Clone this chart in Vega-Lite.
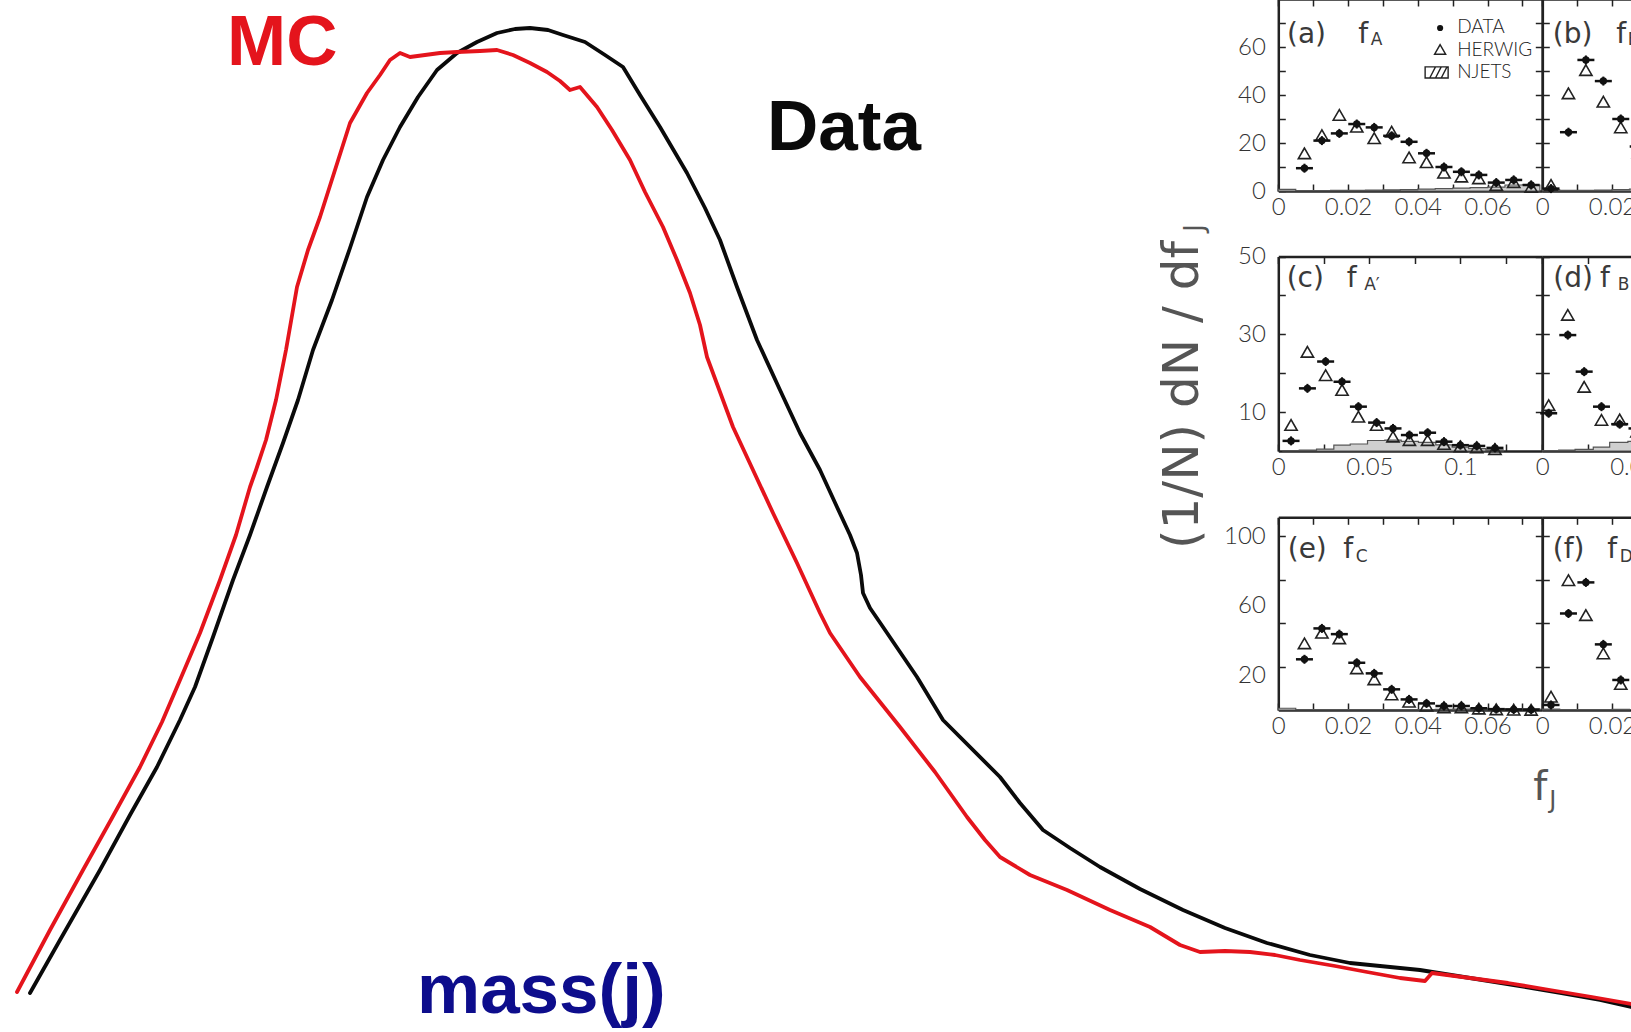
{
  "$schema": "https://vega.github.io/schema/vega-lite/v6.json",
  "width": 1631,
  "height": 1032,
  "autosize": {"type": "none"},
  "padding": 0,
  "background": "white",
  "config": {
    "view": {"stroke": null},
    "axis": {
      "domainColor": "#222", "domainWidth": 2.5,
      "tickColor": "#222", "tickWidth": 1.5, "tickSize": -7,
      "labelFont": "Lato", "labelFontWeight": 300, "labelFontSize": 24, "labelColor": "#333",
      "labelFlush": false, "labelOverlap": false, "labelBound": false, "grid": false
    }
  },
  "datasets": {
    "curves": [
      {"sample": "Data", "mass": 3.0, "events": 3.9}, {"sample": "Data", "mass": 6.0, "events": 9.2},
      {"sample": "Data", "mass": 10.0, "events": 16.2}, {"sample": "Data", "mass": 13.0, "events": 21.7},
      {"sample": "Data", "mass": 15.7, "events": 26.5}, {"sample": "Data", "mass": 18.0, "events": 31.2},
      {"sample": "Data", "mass": 19.5, "events": 34.5}, {"sample": "Data", "mass": 21.3, "events": 39.5},
      {"sample": "Data", "mass": 23.3, "events": 45.2}, {"sample": "Data", "mass": 25.0, "events": 49.7},
      {"sample": "Data", "mass": 26.7, "events": 54.5}, {"sample": "Data", "mass": 28.3, "events": 58.9},
      {"sample": "Data", "mass": 29.8, "events": 63.2}, {"sample": "Data", "mass": 31.3, "events": 68.2},
      {"sample": "Data", "mass": 33.2, "events": 73.2}, {"sample": "Data", "mass": 35.0, "events": 78.4},
      {"sample": "Data", "mass": 36.7, "events": 83.5}, {"sample": "Data", "mass": 38.3, "events": 87.2},
      {"sample": "Data", "mass": 40.0, "events": 90.5}, {"sample": "Data", "mass": 41.8, "events": 93.5},
      {"sample": "Data", "mass": 43.7, "events": 96.2}, {"sample": "Data", "mass": 45.7, "events": 97.9},
      {"sample": "Data", "mass": 47.7, "events": 99.0}, {"sample": "Data", "mass": 49.7, "events": 99.9},
      {"sample": "Data", "mass": 51.5, "events": 100.3}, {"sample": "Data", "mass": 53.0, "events": 100.4},
      {"sample": "Data", "mass": 54.8, "events": 100.2}, {"sample": "Data", "mass": 56.3, "events": 99.7},
      {"sample": "Data", "mass": 58.5, "events": 99.0}, {"sample": "Data", "mass": 60.5, "events": 97.7},
      {"sample": "Data", "mass": 62.3, "events": 96.5}, {"sample": "Data", "mass": 64.0, "events": 93.7},
      {"sample": "Data", "mass": 66.0, "events": 90.5}, {"sample": "Data", "mass": 68.7, "events": 85.9},
      {"sample": "Data", "mass": 70.5, "events": 82.4}, {"sample": "Data", "mass": 72.0, "events": 79.2},
      {"sample": "Data", "mass": 73.7, "events": 74.5}, {"sample": "Data", "mass": 75.7, "events": 69.2},
      {"sample": "Data", "mass": 78.0, "events": 64.2}, {"sample": "Data", "mass": 80.0, "events": 59.9},
      {"sample": "Data", "mass": 82.0, "events": 56.2}, {"sample": "Data", "mass": 83.7, "events": 52.5},
      {"sample": "Data", "mass": 85.0, "events": 49.7}, {"sample": "Data", "mass": 85.7, "events": 47.9},
      {"sample": "Data", "mass": 86.1, "events": 45.7}, {"sample": "Data", "mass": 86.3, "events": 43.9},
      {"sample": "Data", "mass": 87.0, "events": 42.4}, {"sample": "Data", "mass": 88.3, "events": 40.5},
      {"sample": "Data", "mass": 90.0, "events": 38.0}, {"sample": "Data", "mass": 91.7, "events": 35.5},
      {"sample": "Data", "mass": 94.3, "events": 31.2}, {"sample": "Data", "mass": 100.0, "events": 25.5},
      {"sample": "Data", "mass": 102.0, "events": 22.9}, {"sample": "Data", "mass": 104.3, "events": 20.2},
      {"sample": "Data", "mass": 107.0, "events": 18.4}, {"sample": "Data", "mass": 110.0, "events": 16.5},
      {"sample": "Data", "mass": 114.0, "events": 14.3}, {"sample": "Data", "mass": 118.3, "events": 12.2},
      {"sample": "Data", "mass": 122.5, "events": 10.4}, {"sample": "Data", "mass": 126.7, "events": 8.9},
      {"sample": "Data", "mass": 131.0, "events": 7.7}, {"sample": "Data", "mass": 135.0, "events": 6.9},
      {"sample": "Data", "mass": 142.0, "events": 6.2}, {"sample": "Data", "mass": 147.0, "events": 5.4},
      {"sample": "Data", "mass": 152.0, "events": 4.6}, {"sample": "Data", "mass": 156.0, "events": 3.9},
      {"sample": "Data", "mass": 160.0, "events": 3.2}, {"sample": "Data", "mass": 163.1, "events": 2.5},
      {"sample": "MC", "mass": 1.7, "events": 4.0}, {"sample": "MC", "mass": 5.0, "events": 10.2},
      {"sample": "MC", "mass": 8.3, "events": 16.2}, {"sample": "MC", "mass": 11.2, "events": 21.4},
      {"sample": "MC", "mass": 14.0, "events": 26.5}, {"sample": "MC", "mass": 16.2, "events": 31.0},
      {"sample": "MC", "mass": 18.0, "events": 35.2}, {"sample": "MC", "mass": 20.0, "events": 39.9},
      {"sample": "MC", "mass": 22.0, "events": 45.2}, {"sample": "MC", "mass": 23.6, "events": 49.7},
      {"sample": "MC", "mass": 25.0, "events": 54.5}, {"sample": "MC", "mass": 25.6, "events": 56.2},
      {"sample": "MC", "mass": 26.6, "events": 59.2}, {"sample": "MC", "mass": 27.6, "events": 63.2},
      {"sample": "MC", "mass": 28.6, "events": 68.2}, {"sample": "MC", "mass": 29.7, "events": 74.5},
      {"sample": "MC", "mass": 30.8, "events": 78.2}, {"sample": "MC", "mass": 32.0, "events": 81.5},
      {"sample": "MC", "mass": 33.5, "events": 86.2}, {"sample": "MC", "mass": 35.0, "events": 90.9},
      {"sample": "MC", "mass": 36.7, "events": 93.9}, {"sample": "MC", "mass": 38.0, "events": 95.7},
      {"sample": "MC", "mass": 39.0, "events": 97.2}, {"sample": "MC", "mass": 40.0, "events": 97.9},
      {"sample": "MC", "mass": 41.0, "events": 97.5}, {"sample": "MC", "mass": 42.5, "events": 97.7},
      {"sample": "MC", "mass": 44.0, "events": 97.9}, {"sample": "MC", "mass": 45.7, "events": 98.0},
      {"sample": "MC", "mass": 48.0, "events": 98.1}, {"sample": "MC", "mass": 49.7, "events": 98.2},
      {"sample": "MC", "mass": 51.3, "events": 97.7}, {"sample": "MC", "mass": 53.0, "events": 96.9},
      {"sample": "MC", "mass": 54.7, "events": 96.0}, {"sample": "MC", "mass": 56.0, "events": 95.1},
      {"sample": "MC", "mass": 57.0, "events": 94.2}, {"sample": "MC", "mass": 58.0, "events": 94.5},
      {"sample": "MC", "mass": 59.7, "events": 92.5}, {"sample": "MC", "mass": 61.2, "events": 90.2},
      {"sample": "MC", "mass": 63.0, "events": 87.2}, {"sample": "MC", "mass": 64.5, "events": 84.0},
      {"sample": "MC", "mass": 66.3, "events": 80.5}, {"sample": "MC", "mass": 67.7, "events": 77.2},
      {"sample": "MC", "mass": 69.0, "events": 73.9}, {"sample": "MC", "mass": 70.0, "events": 70.7},
      {"sample": "MC", "mass": 70.7, "events": 67.5}, {"sample": "MC", "mass": 72.0, "events": 64.0},
      {"sample": "MC", "mass": 73.3, "events": 60.5}, {"sample": "MC", "mass": 75.3, "events": 56.2},
      {"sample": "MC", "mass": 77.3, "events": 51.9}, {"sample": "MC", "mass": 79.7, "events": 46.9},
      {"sample": "MC", "mass": 82.0, "events": 41.9}, {"sample": "MC", "mass": 83.0, "events": 39.9},
      {"sample": "MC", "mass": 84.5, "events": 37.7}, {"sample": "MC", "mass": 86.0, "events": 35.5},
      {"sample": "MC", "mass": 88.0, "events": 33.0}, {"sample": "MC", "mass": 90.0, "events": 30.5},
      {"sample": "MC", "mass": 93.5, "events": 26.0}, {"sample": "MC", "mass": 96.7, "events": 21.5},
      {"sample": "MC", "mass": 98.5, "events": 19.2}, {"sample": "MC", "mass": 100.0, "events": 17.5},
      {"sample": "MC", "mass": 103.0, "events": 15.7}, {"sample": "MC", "mass": 106.7, "events": 14.2},
      {"sample": "MC", "mass": 111.0, "events": 12.2}, {"sample": "MC", "mass": 115.0, "events": 10.5},
      {"sample": "MC", "mass": 118.0, "events": 8.7}, {"sample": "MC", "mass": 120.0, "events": 8.0},
      {"sample": "MC", "mass": 122.5, "events": 8.1}, {"sample": "MC", "mass": 125.0, "events": 8.0},
      {"sample": "MC", "mass": 127.5, "events": 7.7}, {"sample": "MC", "mass": 130.0, "events": 7.2},
      {"sample": "MC", "mass": 133.5, "events": 6.6}, {"sample": "MC", "mass": 136.7, "events": 6.0},
      {"sample": "MC", "mass": 140.0, "events": 5.4}, {"sample": "MC", "mass": 142.5, "events": 5.1},
      {"sample": "MC", "mass": 143.2, "events": 5.9}, {"sample": "MC", "mass": 147.0, "events": 5.4},
      {"sample": "MC", "mass": 150.8, "events": 4.9}, {"sample": "MC", "mass": 155.0, "events": 4.2},
      {"sample": "MC", "mass": 159.2, "events": 3.5}, {"sample": "MC", "mass": 163.1, "events": 2.8}
    ],
    "labels": [
      {"label": "MC", "mass": 22.7, "events": 96.7},
      {"label": "Data", "mass": 76.7, "events": 88.2},
      {"label": "mass(j)", "mass": 41.7, "events": 1.9}
    ],
    "pa": [
      {"series": "DATA", "fj": 0.0075, "value": 9.5}, {"series": "DATA", "fj": 0.0125, "value": 21},
      {"series": "DATA", "fj": 0.0175, "value": 24}, {"series": "DATA", "fj": 0.0225, "value": 27.9},
      {"series": "DATA", "fj": 0.0275, "value": 26.5}, {"series": "DATA", "fj": 0.0325, "value": 23},
      {"series": "DATA", "fj": 0.0375, "value": 20.5}, {"series": "DATA", "fj": 0.0425, "value": 15.7},
      {"series": "DATA", "fj": 0.0475, "value": 10}, {"series": "DATA", "fj": 0.0525, "value": 8},
      {"series": "DATA", "fj": 0.0575, "value": 6.7}, {"series": "DATA", "fj": 0.0625, "value": 3.5},
      {"series": "DATA", "fj": 0.0675, "value": 4.6}, {"series": "DATA", "fj": 0.0725, "value": 2.5},
      {"series": "HERWIG", "fj": 0.0075, "value": 15.7}, {"series": "HERWIG", "fj": 0.0125, "value": 23.3},
      {"series": "HERWIG", "fj": 0.0175, "value": 31.7}, {"series": "HERWIG", "fj": 0.0225, "value": 26.8},
      {"series": "HERWIG", "fj": 0.0275, "value": 22}, {"series": "HERWIG", "fj": 0.0325, "value": 24.7},
      {"series": "HERWIG", "fj": 0.0375, "value": 14}, {"series": "HERWIG", "fj": 0.0425, "value": 12},
      {"series": "HERWIG", "fj": 0.0475, "value": 7.6}, {"series": "HERWIG", "fj": 0.0525, "value": 6},
      {"series": "HERWIG", "fj": 0.0575, "value": 5.3}, {"series": "HERWIG", "fj": 0.0625, "value": 2.5},
      {"series": "HERWIG", "fj": 0.0675, "value": 3.7}, {"series": "HERWIG", "fj": 0.0725, "value": 1.7},
      {"series": "NJETS", "fj": 0, "value": 0.7}, {"series": "NJETS", "fj": 0.005, "value": 0.2},
      {"series": "NJETS", "fj": 0.01, "value": 0.2}, {"series": "NJETS", "fj": 0.015, "value": 0.3},
      {"series": "NJETS", "fj": 0.02, "value": 0.3}, {"series": "NJETS", "fj": 0.025, "value": 0.4},
      {"series": "NJETS", "fj": 0.03, "value": 0.5}, {"series": "NJETS", "fj": 0.035, "value": 0.6},
      {"series": "NJETS", "fj": 0.04, "value": 0.8}, {"series": "NJETS", "fj": 0.045, "value": 1.0},
      {"series": "NJETS", "fj": 0.05, "value": 1.2}, {"series": "NJETS", "fj": 0.055, "value": 1.4},
      {"series": "NJETS", "fj": 0.06, "value": 1.6}, {"series": "NJETS", "fj": 0.065, "value": 2.5},
      {"series": "NJETS", "fj": 0.07, "value": 2.5}, {"series": "NJETS", "fj": 0.075, "value": 2.5}
    ],
    "pb": [
      {"series": "DATA", "fj": 0.0025, "value": 1}, {"series": "DATA", "fj": 0.0075, "value": 24.5},
      {"series": "DATA", "fj": 0.0125, "value": 54.6}, {"series": "DATA", "fj": 0.0175, "value": 45.8},
      {"series": "DATA", "fj": 0.0225, "value": 30}, {"series": "DATA", "fj": 0.0275, "value": 18.5},
      {"series": "HERWIG", "fj": 0.0025, "value": 2.5}, {"series": "HERWIG", "fj": 0.0075, "value": 40.7},
      {"series": "HERWIG", "fj": 0.0125, "value": 50.4}, {"series": "HERWIG", "fj": 0.0175, "value": 37.2},
      {"series": "HERWIG", "fj": 0.0225, "value": 26.5}, {"series": "HERWIG", "fj": 0.0275, "value": 16},
      {"series": "NJETS", "fj": 0, "value": 0.5}, {"series": "NJETS", "fj": 0.005, "value": 0.3},
      {"series": "NJETS", "fj": 0.01, "value": 0.3}, {"series": "NJETS", "fj": 0.015, "value": 0.4},
      {"series": "NJETS", "fj": 0.02, "value": 0.6}, {"series": "NJETS", "fj": 0.025, "value": 0.8},
      {"series": "NJETS", "fj": 0.03, "value": 0.8}
    ],
    "pc": [
      {"series": "DATA", "fj": 0.007, "value": 2.6}, {"series": "DATA", "fj": 0.016, "value": 16.1},
      {"series": "DATA", "fj": 0.026, "value": 23.0}, {"series": "DATA", "fj": 0.035, "value": 17.8},
      {"series": "DATA", "fj": 0.044, "value": 11.4}, {"series": "DATA", "fj": 0.054, "value": 7.3},
      {"series": "DATA", "fj": 0.063, "value": 5.8}, {"series": "DATA", "fj": 0.072, "value": 4.1},
      {"series": "DATA", "fj": 0.082, "value": 4.7}, {"series": "DATA", "fj": 0.091, "value": 2.4},
      {"series": "DATA", "fj": 0.100, "value": 1.5}, {"series": "DATA", "fj": 0.109, "value": 1.3},
      {"series": "DATA", "fj": 0.119, "value": 0.8},
      {"series": "HERWIG", "fj": 0.007, "value": 6.7}, {"series": "HERWIG", "fj": 0.016, "value": 25.5},
      {"series": "HERWIG", "fj": 0.026, "value": 19.5}, {"series": "HERWIG", "fj": 0.035, "value": 15.7},
      {"series": "HERWIG", "fj": 0.044, "value": 8.8}, {"series": "HERWIG", "fj": 0.054, "value": 6.7},
      {"series": "HERWIG", "fj": 0.063, "value": 3.7}, {"series": "HERWIG", "fj": 0.072, "value": 2.8},
      {"series": "HERWIG", "fj": 0.082, "value": 2.8}, {"series": "HERWIG", "fj": 0.091, "value": 1.8},
      {"series": "HERWIG", "fj": 0.100, "value": 1.2}, {"series": "HERWIG", "fj": 0.109, "value": 0.9},
      {"series": "HERWIG", "fj": 0.119, "value": 0.5},
      {"series": "NJETS", "fj": 0.0025, "value": 0.1}, {"series": "NJETS", "fj": 0.0115, "value": 0.2},
      {"series": "NJETS", "fj": 0.021, "value": 0.5}, {"series": "NJETS", "fj": 0.0305, "value": 1.5},
      {"series": "NJETS", "fj": 0.0395, "value": 1.8}, {"series": "NJETS", "fj": 0.049, "value": 2.7},
      {"series": "NJETS", "fj": 0.0585, "value": 2.8}, {"series": "NJETS", "fj": 0.0675, "value": 2.5},
      {"series": "NJETS", "fj": 0.077, "value": 2.2}, {"series": "NJETS", "fj": 0.0865, "value": 1.6},
      {"series": "NJETS", "fj": 0.0955, "value": 1.0}, {"series": "NJETS", "fj": 0.1045, "value": 0.6},
      {"series": "NJETS", "fj": 0.114, "value": 0.3}, {"series": "NJETS", "fj": 0.1235, "value": 0.3}
    ],
    "pd": [
      {"series": "DATA", "fj": 0.0035, "value": 9.7}, {"series": "DATA", "fj": 0.014, "value": 29.8},
      {"series": "DATA", "fj": 0.023, "value": 20.4}, {"series": "DATA", "fj": 0.0325, "value": 11.4},
      {"series": "DATA", "fj": 0.0425, "value": 6.9}, {"series": "DATA", "fj": 0.052, "value": 5.8},
      {"series": "HERWIG", "fj": 0.0035, "value": 11.8}, {"series": "HERWIG", "fj": 0.014, "value": 35},
      {"series": "HERWIG", "fj": 0.023, "value": 16.5}, {"series": "HERWIG", "fj": 0.0325, "value": 8.0},
      {"series": "HERWIG", "fj": 0.0425, "value": 8.1}, {"series": "HERWIG", "fj": 0.052, "value": 5},
      {"series": "NJETS", "fj": 0, "value": 0.1}, {"series": "NJETS", "fj": 0.009, "value": 0.2},
      {"series": "NJETS", "fj": 0.018, "value": 0.4}, {"series": "NJETS", "fj": 0.028, "value": 1.0},
      {"series": "NJETS", "fj": 0.037, "value": 2.2}, {"series": "NJETS", "fj": 0.047, "value": 2.5},
      {"series": "NJETS", "fj": 0.057, "value": 2.5}
    ],
    "pe": [
      {"series": "DATA", "fj": 0.0075, "value": 29.2}, {"series": "DATA", "fj": 0.0125, "value": 47},
      {"series": "DATA", "fj": 0.0175, "value": 43.7}, {"series": "DATA", "fj": 0.0225, "value": 27.2},
      {"series": "DATA", "fj": 0.0275, "value": 21.1}, {"series": "DATA", "fj": 0.0325, "value": 11.9},
      {"series": "DATA", "fj": 0.0375, "value": 6.1}, {"series": "DATA", "fj": 0.0425, "value": 3.8},
      {"series": "DATA", "fj": 0.0475, "value": 2.3}, {"series": "DATA", "fj": 0.0525, "value": 2.3},
      {"series": "DATA", "fj": 0.0575, "value": 1.0}, {"series": "DATA", "fj": 0.0625, "value": 0.5},
      {"series": "DATA", "fj": 0.0675, "value": 0.3}, {"series": "DATA", "fj": 0.0725, "value": 0.2},
      {"series": "HERWIG", "fj": 0.0075, "value": 38.4}, {"series": "HERWIG", "fj": 0.0125, "value": 44.5},
      {"series": "HERWIG", "fj": 0.0175, "value": 41.3}, {"series": "HERWIG", "fj": 0.0225, "value": 24},
      {"series": "HERWIG", "fj": 0.0275, "value": 17.7}, {"series": "HERWIG", "fj": 0.0325, "value": 9},
      {"series": "HERWIG", "fj": 0.0375, "value": 4.8}, {"series": "HERWIG", "fj": 0.0425, "value": 2.5},
      {"series": "HERWIG", "fj": 0.0475, "value": 1.5}, {"series": "HERWIG", "fj": 0.0525, "value": 1.5},
      {"series": "HERWIG", "fj": 0.0575, "value": 0.8}, {"series": "HERWIG", "fj": 0.0625, "value": 0.4},
      {"series": "HERWIG", "fj": 0.0675, "value": 0.2}, {"series": "HERWIG", "fj": 0.0725, "value": 0.1},
      {"series": "NJETS", "fj": 0, "value": 1.0}, {"series": "NJETS", "fj": 0.005, "value": 0.2},
      {"series": "NJETS", "fj": 0.01, "value": 0.2}, {"series": "NJETS", "fj": 0.015, "value": 0.2},
      {"series": "NJETS", "fj": 0.02, "value": 0.2}, {"series": "NJETS", "fj": 0.025, "value": 0.2},
      {"series": "NJETS", "fj": 0.03, "value": 0.3}, {"series": "NJETS", "fj": 0.035, "value": 0.3},
      {"series": "NJETS", "fj": 0.04, "value": 0.3}, {"series": "NJETS", "fj": 0.045, "value": 0.4},
      {"series": "NJETS", "fj": 0.05, "value": 0.5}, {"series": "NJETS", "fj": 0.055, "value": 0.6},
      {"series": "NJETS", "fj": 0.06, "value": 0.7}, {"series": "NJETS", "fj": 0.065, "value": 0.7},
      {"series": "NJETS", "fj": 0.07, "value": 0.6}, {"series": "NJETS", "fj": 0.075, "value": 0.6}
    ],
    "pf": [
      {"series": "DATA", "fj": 0.0025, "value": 2.9}, {"series": "DATA", "fj": 0.0075, "value": 55.6},
      {"series": "DATA", "fj": 0.0125, "value": 73.5}, {"series": "DATA", "fj": 0.0175, "value": 37.8},
      {"series": "DATA", "fj": 0.0225, "value": 17.3},
      {"series": "HERWIG", "fj": 0.0025, "value": 7.7}, {"series": "HERWIG", "fj": 0.0075, "value": 74.8},
      {"series": "HERWIG", "fj": 0.0125, "value": 54.7}, {"series": "HERWIG", "fj": 0.0175, "value": 32.6},
      {"series": "HERWIG", "fj": 0.0225, "value": 15},
      {"series": "NJETS", "fj": 0, "value": 0.5}, {"series": "NJETS", "fj": 0.005, "value": 0.3},
      {"series": "NJETS", "fj": 0.01, "value": 0.3}, {"series": "NJETS", "fj": 0.015, "value": 0.3},
      {"series": "NJETS", "fj": 0.02, "value": 0.4}, {"series": "NJETS", "fj": 0.025, "value": 0.4}
    ]
  },
  "resolve": {
    "scale": {"x": "independent", "y": "independent", "color": "independent"},
    "axis": {"x": "independent", "y": "independent"}
  },
  "layer": [
    {
      "layer": [
        {
          "data": {"name": "curves"},
          "mark": {"type": "line", "strokeWidth": 3.8, "strokeJoin": "round", "strokeCap": "round"},
          "encoding": {
            "x": {"field": "mass", "type": "quantitative", "scale": {"domain": [0, 163.1], "nice": false, "zero": false}, "axis": null},
            "y": {"field": "events", "type": "quantitative", "scale": {"domain": [0, 103.2], "nice": false, "zero": false}, "axis": null},
            "color": {"field": "sample", "type": "nominal", "scale": {"domain": ["MC", "Data", "mass(j)"], "range": ["#e4141c", "#0a0a0a", "#0d0d8c"]}, "legend": null}
          }
        },
        {
          "data": {"name": "labels"},
          "mark": {"type": "text", "align": "left", "baseline": "alphabetic", "font": "Liberation Sans", "fontWeight": "bold", "fontSize": 71},
          "encoding": {
            "x": {"field": "mass", "type": "quantitative", "scale": {"domain": [0, 163.1], "nice": false, "zero": false}, "axis": null},
            "y": {"field": "events", "type": "quantitative", "scale": {"domain": [0, 103.2], "nice": false, "zero": false}, "axis": null},
            "text": {"field": "label"},
            "color": {"field": "label", "type": "nominal", "scale": {"domain": ["MC", "Data", "mass(j)"], "range": ["#e4141c", "#0a0a0a", "#0d0d8c"]}, "legend": null}
          }
        }
      ]
    },
    {
      "data": {"name": "pa"},
      "resolve": {"axis": {"x": "independent", "y": "independent"}},
      "encoding": {
        "x": {"field": "fj", "type": "quantitative", "scale": {"domain": [0, 0.0757], "range": [1278.3, 1542.3], "nice": false, "zero": false}, "axis": null},
        "y": {"field": "value", "type": "quantitative", "scale": {"domain": [0, 80], "range": [191, -1], "nice": false, "zero": false}, "axis": null}
      },
      "layer": [
        {"transform": [{"filter": "datum.series == 'NJETS'"}], "mark": {"type": "area", "interpolate": "step-after", "fill": "#cfcfcf", "stroke": "#555", "strokeWidth": 1.2}},
        {
          "transform": [{"filter": "datum.series == 'HERWIG'"}],
          "mark": {"type": "point", "shape": "triangle-up", "filled": false, "stroke": "#222", "strokeWidth": 1.6, "size": 150, "opacity": 1},
          "encoding": {
            "x": {"field": "fj", "type": "quantitative", "scale": {"domain": [0, 0.0757], "range": [1278.3, 1542.3], "nice": false, "zero": false},
                  "axis": {"orient": "top", "offset": 1, "values": [0, 0.01, 0.02, 0.03, 0.04, 0.05, 0.06, 0.07], "labels": false, "title": null}},
            "y": {"field": "value", "type": "quantitative", "scale": {"domain": [0, 80], "range": [191, -1], "nice": false, "zero": false},
                  "axis": {"orient": "right", "offset": -88.7, "values": [0, 10, 20, 30, 40, 50, 60, 70], "labels": false, "title": null}}
          }
        },
        {"transform": [{"filter": "datum.series == 'DATA'"}], "mark": {"type": "tick", "orient": "horizontal", "size": 17, "thickness": 2.5, "color": "#111", "opacity": 1}},
        {"transform": [{"filter": "datum.series == 'DATA'"}], "mark": {"type": "tick", "orient": "vertical", "size": 9, "thickness": 2, "color": "#111", "opacity": 1}},
        {
          "transform": [{"filter": "datum.series == 'DATA'"}],
          "mark": {"type": "circle", "size": 55, "color": "#111", "opacity": 1},
          "encoding": {
            "x": {"field": "fj", "type": "quantitative", "scale": {"domain": [0, 0.0757], "range": [1278.3, 1542.3], "nice": false, "zero": false},
                  "axis": {"orient": "bottom", "offset": -841, "values": [0, 0.01, 0.02, 0.03, 0.04, 0.05, 0.06, 0.07], "format": ".2~f",
                           "labelExpr": "indexof(['0','0.02','0.04','0.06'], datum.label) >= 0 ? datum.label : ''", "labelPadding": 11, "title": null}},
            "y": {"field": "value", "type": "quantitative", "scale": {"domain": [0, 80], "range": [191, -1], "nice": false, "zero": false},
                  "axis": {"orient": "left", "offset": -1278.3, "values": [0, 10, 20, 30, 40, 50, 60, 70],
                           "labelExpr": "datum.value % 20 == 0 ? datum.label : ''", "labelPadding": 20, "title": null}}
          }
        },
        {
          "data": {"values": [{"t": "(a)", "fj": 0.0025, "value": 61.7}, {"t": "f", "fj": 0.0229, "value": 61.7}]},
          "mark": {"type": "text", "align": "left", "baseline": "alphabetic", "font": "DejaVu Sans", "fontSize": 28, "color": "#3a3a3a"},
          "encoding": {"text": {"field": "t"}}
        },
        {
          "data": {"values": [{"t": "A", "fj": 0.0265, "value": 60.8}]},
          "mark": {"type": "text", "align": "left", "baseline": "alphabetic", "font": "DejaVu Sans", "fontSize": 17, "color": "#3a3a3a"},
          "encoding": {"text": {"field": "t"}}
        },
        {"data": {"values": [{"fj": 0.0464, "value": 67.9}]}, "mark": {"type": "circle", "size": 38, "color": "#111", "opacity": 1}},
        {"data": {"values": [{"fj": 0.0464, "value": 59}]}, "mark": {"type": "point", "shape": "triangle-up", "filled": false, "stroke": "#222", "strokeWidth": 1.5, "size": 120, "opacity": 1}},
        {"data": {"values": [{"fj": 0.0454, "value": 49.4}]}, "mark": {"type": "point", "shape": "M-1,-0.48H1V0.48H-1Z M-0.6,0.48L-0.1,-0.48 M-0.1,0.48L0.4,-0.48 M0.4,0.48L0.9,-0.48", "filled": false, "stroke": "#222", "strokeWidth": 1.4, "size": 529, "opacity": 1}},
        {
          "data": {"values": [{"t": "DATA", "fj": 0.0513, "value": 68.3}, {"t": "HERWIG", "fj": 0.0513, "value": 58.75}, {"t": "NJETS", "fj": 0.0513, "value": 49.6}]},
          "mark": {"type": "text", "align": "left", "baseline": "middle", "font": "Lato", "fontWeight": 300, "fontSize": 19, "color": "#222"},
          "encoding": {"text": {"field": "t"}}
        }
      ]
    },
    {
      "data": {"name": "pb"},
      "resolve": {"axis": {"x": "independent", "y": "independent"}},
      "encoding": {
        "x": {"field": "fj", "type": "quantitative", "scale": {"domain": [0, 0.0757], "range": [1542.3, 1806.3], "nice": false, "zero": false}, "axis": null},
        "y": {"field": "value", "type": "quantitative", "scale": {"domain": [0, 80], "range": [191, -1], "nice": false, "zero": false}, "axis": null}
      },
      "layer": [
        {"transform": [{"filter": "datum.series == 'NJETS'"}], "mark": {"type": "area", "interpolate": "step-after", "fill": "#cfcfcf", "stroke": "#555", "strokeWidth": 1.2}},
        {
          "transform": [{"filter": "datum.series == 'HERWIG'"}],
          "mark": {"type": "point", "shape": "triangle-up", "filled": false, "stroke": "#222", "strokeWidth": 1.6, "size": 150, "opacity": 1},
          "encoding": {
            "x": {"field": "fj", "type": "quantitative", "scale": {"domain": [0, 0.0757], "range": [1542.3, 1806.3], "nice": false, "zero": false},
                  "axis": {"orient": "top", "offset": 1, "values": [0, 0.01, 0.02, 0.03, 0.04, 0.05, 0.06, 0.07], "labels": false, "title": null}}
          }
        },
        {"transform": [{"filter": "datum.series == 'DATA'"}], "mark": {"type": "tick", "orient": "horizontal", "size": 17, "thickness": 2.5, "color": "#111", "opacity": 1}},
        {"transform": [{"filter": "datum.series == 'DATA'"}], "mark": {"type": "tick", "orient": "vertical", "size": 9, "thickness": 2, "color": "#111", "opacity": 1}},
        {
          "transform": [{"filter": "datum.series == 'DATA'"}],
          "mark": {"type": "circle", "size": 55, "color": "#111", "opacity": 1},
          "encoding": {
            "x": {"field": "fj", "type": "quantitative", "scale": {"domain": [0, 0.0757], "range": [1542.3, 1806.3], "nice": false, "zero": false},
                  "axis": {"orient": "bottom", "offset": -841, "values": [0, 0.01, 0.02, 0.03, 0.04, 0.05, 0.06, 0.07], "format": ".2~f",
                           "labelExpr": "indexof(['0','0.02','0.04','0.06'], datum.label) >= 0 ? datum.label : ''", "labelPadding": 11, "title": null}},
            "y": {"field": "value", "type": "quantitative", "scale": {"domain": [0, 80], "range": [191, -1], "nice": false, "zero": false},
                  "axis": {"orient": "left", "offset": -1542.3, "values": [0, 10, 20, 30, 40, 50, 60, 70], "labels": false, "title": null}}
          }
        },
        {
          "data": {"values": [{"t": "(b)", "fj": 0.003, "value": 61.7}, {"t": "f", "fj": 0.0212, "value": 61.7}]},
          "mark": {"type": "text", "align": "left", "baseline": "alphabetic", "font": "DejaVu Sans", "fontSize": 28, "color": "#3a3a3a"},
          "encoding": {"text": {"field": "t"}}
        },
        {
          "data": {"values": [{"t": "B", "fj": 0.0245, "value": 60.8}]},
          "mark": {"type": "text", "align": "left", "baseline": "alphabetic", "font": "DejaVu Sans", "fontSize": 17, "color": "#3a3a3a"},
          "encoding": {"text": {"field": "t"}}
        }
      ]
    },
    {
      "data": {"name": "pc"},
      "resolve": {"axis": {"x": "independent", "y": "independent"}},
      "encoding": {
        "x": {"field": "fj", "type": "quantitative", "scale": {"domain": [0, 0.145], "range": [1278.3, 1542.3], "nice": false, "zero": false}, "axis": null},
        "y": {"field": "value", "type": "quantitative", "scale": {"domain": [0, 50], "range": [451, 256.5], "nice": false, "zero": false}, "axis": null}
      },
      "layer": [
        {"transform": [{"filter": "datum.series == 'NJETS'"}], "mark": {"type": "area", "interpolate": "step-after", "fill": "#cfcfcf", "stroke": "#555", "strokeWidth": 1.2}},
        {
          "transform": [{"filter": "datum.series == 'HERWIG'"}],
          "mark": {"type": "point", "shape": "triangle-up", "filled": false, "stroke": "#222", "strokeWidth": 1.6, "size": 150, "opacity": 1},
          "encoding": {
            "x": {"field": "fj", "type": "quantitative", "scale": {"domain": [0, 0.145], "range": [1278.3, 1542.3], "nice": false, "zero": false},
                  "axis": {"orient": "top", "offset": -256.5, "values": [0, 0.025, 0.05, 0.075, 0.1, 0.125], "labels": false, "title": null}},
            "y": {"field": "value", "type": "quantitative", "scale": {"domain": [0, 50], "range": [451, 256.5], "nice": false, "zero": false},
                  "axis": {"orient": "right", "offset": -88.7, "values": [10, 20, 30, 40, 50], "labels": false, "title": null}}
          }
        },
        {"transform": [{"filter": "datum.series == 'DATA'"}], "mark": {"type": "tick", "orient": "horizontal", "size": 17, "thickness": 2.5, "color": "#111", "opacity": 1}},
        {"transform": [{"filter": "datum.series == 'DATA'"}], "mark": {"type": "tick", "orient": "vertical", "size": 9, "thickness": 2, "color": "#111", "opacity": 1}},
        {
          "transform": [{"filter": "datum.series == 'DATA'"}],
          "mark": {"type": "circle", "size": 55, "color": "#111", "opacity": 1},
          "encoding": {
            "x": {"field": "fj", "type": "quantitative", "scale": {"domain": [0, 0.145], "range": [1278.3, 1542.3], "nice": false, "zero": false},
                  "axis": {"orient": "bottom", "offset": -581, "values": [0, 0.025, 0.05, 0.075, 0.1, 0.125], "format": ".3~f",
                           "labelExpr": "indexof(['0','0.05','0.1'], datum.label) >= 0 ? datum.label : ''", "labelPadding": 11, "title": null}},
            "y": {"field": "value", "type": "quantitative", "scale": {"domain": [0, 50], "range": [451, 256.5], "nice": false, "zero": false},
                  "axis": {"orient": "left", "offset": -1278.3, "values": [10, 20, 30, 40, 50],
                           "labelExpr": "datum.value % 20 == 10 ? datum.label : ''", "labelPadding": 20, "title": null}}
          }
        },
        {
          "data": {"values": [{"t": "(c)", "fj": 0.0046, "value": 42.2}, {"t": "f", "fj": 0.0376, "value": 42.2}]},
          "mark": {"type": "text", "align": "left", "baseline": "alphabetic", "font": "DejaVu Sans", "fontSize": 28, "color": "#3a3a3a"},
          "encoding": {"text": {"field": "t"}}
        },
        {
          "data": {"values": [{"t": "A′", "fj": 0.0472, "value": 41.4}]},
          "mark": {"type": "text", "align": "left", "baseline": "alphabetic", "font": "DejaVu Sans", "fontSize": 17, "color": "#3a3a3a"},
          "encoding": {"text": {"field": "t"}}
        },
        {
          "data": {"values": [{"t": "(1/N) dN / df", "fj": -0.0523, "value": 14.4}]},
          "mark": {"type": "text", "align": "center", "baseline": "middle", "angle": 270, "font": "DejaVu Sans", "fontSize": 50, "color": "#555"},
          "encoding": {"text": {"field": "t"}}
        },
        {
          "data": {"values": [{"t": "J", "fj": -0.0455, "value": 57.3}]},
          "mark": {"type": "text", "align": "center", "baseline": "middle", "angle": 270, "font": "DejaVu Sans", "fontSize": 27, "color": "#555"},
          "encoding": {"text": {"field": "t"}}
        }
      ]
    },
    {
      "data": {"name": "pd"},
      "resolve": {"axis": {"x": "independent", "y": "independent"}},
      "encoding": {
        "x": {"field": "fj", "type": "quantitative", "scale": {"domain": [0, 0.145], "range": [1542.3, 1806.3], "nice": false, "zero": false}, "axis": null},
        "y": {"field": "value", "type": "quantitative", "scale": {"domain": [0, 50], "range": [451, 256.5], "nice": false, "zero": false}, "axis": null}
      },
      "layer": [
        {"transform": [{"filter": "datum.series == 'NJETS'"}], "mark": {"type": "area", "interpolate": "step-after", "fill": "#cfcfcf", "stroke": "#555", "strokeWidth": 1.2}},
        {
          "transform": [{"filter": "datum.series == 'HERWIG'"}],
          "mark": {"type": "point", "shape": "triangle-up", "filled": false, "stroke": "#222", "strokeWidth": 1.6, "size": 150, "opacity": 1},
          "encoding": {
            "x": {"field": "fj", "type": "quantitative", "scale": {"domain": [0, 0.145], "range": [1542.3, 1806.3], "nice": false, "zero": false},
                  "axis": {"orient": "top", "offset": -256.5, "values": [0, 0.025, 0.05, 0.075, 0.1, 0.125], "labels": false, "title": null}}
          }
        },
        {"transform": [{"filter": "datum.series == 'DATA'"}], "mark": {"type": "tick", "orient": "horizontal", "size": 17, "thickness": 2.5, "color": "#111", "opacity": 1}},
        {"transform": [{"filter": "datum.series == 'DATA'"}], "mark": {"type": "tick", "orient": "vertical", "size": 9, "thickness": 2, "color": "#111", "opacity": 1}},
        {
          "transform": [{"filter": "datum.series == 'DATA'"}],
          "mark": {"type": "circle", "size": 55, "color": "#111", "opacity": 1},
          "encoding": {
            "x": {"field": "fj", "type": "quantitative", "scale": {"domain": [0, 0.145], "range": [1542.3, 1806.3], "nice": false, "zero": false},
                  "axis": {"orient": "bottom", "offset": -581, "values": [0, 0.025, 0.05, 0.075, 0.1, 0.125], "format": ".3~f",
                           "labelExpr": "indexof(['0','0.05','0.1'], datum.label) >= 0 ? datum.label : ''", "labelPadding": 11, "title": null}},
            "y": {"field": "value", "type": "quantitative", "scale": {"domain": [0, 50], "range": [451, 256.5], "nice": false, "zero": false},
                  "axis": {"orient": "left", "offset": -1542.3, "values": [10, 20, 30, 40, 50], "labels": false, "title": null}}
          }
        },
        {
          "data": {"values": [{"t": "(d)", "fj": 0.006, "value": 42.2}, {"t": "f", "fj": 0.0317, "value": 42.2}]},
          "mark": {"type": "text", "align": "left", "baseline": "alphabetic", "font": "DejaVu Sans", "fontSize": 28, "color": "#3a3a3a"},
          "encoding": {"text": {"field": "t"}}
        },
        {
          "data": {"values": [{"t": "B", "fj": 0.0415, "value": 41.4}]},
          "mark": {"type": "text", "align": "left", "baseline": "alphabetic", "font": "DejaVu Sans", "fontSize": 17, "color": "#3a3a3a"},
          "encoding": {"text": {"field": "t"}}
        }
      ]
    },
    {
      "data": {"name": "pe"},
      "resolve": {"axis": {"x": "independent", "y": "independent"}},
      "encoding": {
        "x": {"field": "fj", "type": "quantitative", "scale": {"domain": [0, 0.0757], "range": [1278.3, 1542.3], "nice": false, "zero": false}, "axis": null},
        "y": {"field": "value", "type": "quantitative", "scale": {"domain": [0, 111], "range": [710, 517.3], "nice": false, "zero": false}, "axis": null}
      },
      "layer": [
        {"transform": [{"filter": "datum.series == 'NJETS'"}], "mark": {"type": "area", "interpolate": "step-after", "fill": "#cfcfcf", "stroke": "#555", "strokeWidth": 1.2}},
        {
          "transform": [{"filter": "datum.series == 'HERWIG'"}],
          "mark": {"type": "point", "shape": "triangle-up", "filled": false, "stroke": "#222", "strokeWidth": 1.6, "size": 150, "opacity": 1},
          "encoding": {
            "x": {"field": "fj", "type": "quantitative", "scale": {"domain": [0, 0.0757], "range": [1278.3, 1542.3], "nice": false, "zero": false},
                  "axis": {"orient": "top", "offset": -517.3, "values": [0, 0.01, 0.02, 0.03, 0.04, 0.05, 0.06, 0.07], "labels": false, "title": null}},
            "y": {"field": "value", "type": "quantitative", "scale": {"domain": [0, 111], "range": [710, 517.3], "nice": false, "zero": false},
                  "axis": {"orient": "right", "offset": -88.7, "values": [25, 50, 75, 100], "labels": false, "title": null}}
          }
        },
        {"transform": [{"filter": "datum.series == 'DATA'"}], "mark": {"type": "tick", "orient": "horizontal", "size": 17, "thickness": 2.5, "color": "#111", "opacity": 1}},
        {"transform": [{"filter": "datum.series == 'DATA'"}], "mark": {"type": "tick", "orient": "vertical", "size": 9, "thickness": 2, "color": "#111", "opacity": 1}},
        {
          "transform": [{"filter": "datum.series == 'DATA'"}],
          "mark": {"type": "circle", "size": 55, "color": "#111", "opacity": 1},
          "encoding": {
            "x": {"field": "fj", "type": "quantitative", "scale": {"domain": [0, 0.0757], "range": [1278.3, 1542.3], "nice": false, "zero": false},
                  "axis": {"orient": "bottom", "offset": -322, "values": [0, 0.01, 0.02, 0.03, 0.04, 0.05, 0.06, 0.07], "format": ".2~f",
                           "labelExpr": "indexof(['0','0.02','0.04','0.06'], datum.label) >= 0 ? datum.label : ''", "labelPadding": 11, "title": null}},
            "y": {"field": "value", "type": "quantitative", "scale": {"domain": [0, 111], "range": [710, 517.3], "nice": false, "zero": false},
                  "axis": {"orient": "left", "offset": -1278.3, "values": [20, 25, 50, 60, 75, 100],
                           "labelExpr": "datum.value % 40 == 20 ? datum.label : ''", "labelPadding": 20,
                           "tickOpacity": {"condition": {"test": "datum.value == 20 || datum.value == 60", "value": 0}, "value": 1}, "title": null}}
          }
        },
        {
          "data": {"values": [{"t": "(e)", "fj": 0.0027, "value": 87.4}, {"t": "f", "fj": 0.0186, "value": 87.4}]},
          "mark": {"type": "text", "align": "left", "baseline": "alphabetic", "font": "DejaVu Sans", "fontSize": 28, "color": "#3a3a3a"},
          "encoding": {"text": {"field": "t"}}
        },
        {
          "data": {"values": [{"t": "C", "fj": 0.0222, "value": 85.3}]},
          "mark": {"type": "text", "align": "left", "baseline": "alphabetic", "font": "DejaVu Sans", "fontSize": 17, "color": "#3a3a3a"},
          "encoding": {"text": {"field": "t"}}
        },
        {
          "data": {"values": [{"t": "f", "fj": 0.0751, "value": -51.8}]},
          "mark": {"type": "text", "align": "center", "baseline": "alphabetic", "font": "DejaVu Sans", "fontSize": 40, "color": "#555"},
          "encoding": {"text": {"field": "t"}}
        },
        {
          "data": {"values": [{"t": "J", "fj": 0.0777, "value": -56.5}]},
          "mark": {"type": "text", "align": "left", "baseline": "alphabetic", "font": "DejaVu Sans", "fontSize": 24, "color": "#555"},
          "encoding": {"text": {"field": "t"}}
        }
      ]
    },
    {
      "data": {"name": "pf"},
      "resolve": {"axis": {"x": "independent", "y": "independent"}},
      "encoding": {
        "x": {"field": "fj", "type": "quantitative", "scale": {"domain": [0, 0.0757], "range": [1542.3, 1806.3], "nice": false, "zero": false}, "axis": null},
        "y": {"field": "value", "type": "quantitative", "scale": {"domain": [0, 111], "range": [710, 517.3], "nice": false, "zero": false}, "axis": null}
      },
      "layer": [
        {"transform": [{"filter": "datum.series == 'NJETS'"}], "mark": {"type": "area", "interpolate": "step-after", "fill": "#cfcfcf", "stroke": "#555", "strokeWidth": 1.2}},
        {
          "transform": [{"filter": "datum.series == 'HERWIG'"}],
          "mark": {"type": "point", "shape": "triangle-up", "filled": false, "stroke": "#222", "strokeWidth": 1.6, "size": 150, "opacity": 1},
          "encoding": {
            "x": {"field": "fj", "type": "quantitative", "scale": {"domain": [0, 0.0757], "range": [1542.3, 1806.3], "nice": false, "zero": false},
                  "axis": {"orient": "top", "offset": -517.3, "values": [0, 0.01, 0.02, 0.03, 0.04, 0.05, 0.06, 0.07], "labels": false, "title": null}}
          }
        },
        {"transform": [{"filter": "datum.series == 'DATA'"}], "mark": {"type": "tick", "orient": "horizontal", "size": 17, "thickness": 2.5, "color": "#111", "opacity": 1}},
        {"transform": [{"filter": "datum.series == 'DATA'"}], "mark": {"type": "tick", "orient": "vertical", "size": 9, "thickness": 2, "color": "#111", "opacity": 1}},
        {
          "transform": [{"filter": "datum.series == 'DATA'"}],
          "mark": {"type": "circle", "size": 55, "color": "#111", "opacity": 1},
          "encoding": {
            "x": {"field": "fj", "type": "quantitative", "scale": {"domain": [0, 0.0757], "range": [1542.3, 1806.3], "nice": false, "zero": false},
                  "axis": {"orient": "bottom", "offset": -322, "values": [0, 0.01, 0.02, 0.03, 0.04, 0.05, 0.06, 0.07], "format": ".2~f",
                           "labelExpr": "indexof(['0','0.02','0.04','0.06'], datum.label) >= 0 ? datum.label : ''", "labelPadding": 11, "title": null}},
            "y": {"field": "value", "type": "quantitative", "scale": {"domain": [0, 111], "range": [710, 517.3], "nice": false, "zero": false},
                  "axis": {"orient": "left", "offset": -1542.3, "values": [25, 50, 75, 100], "labels": false, "title": null}}
          }
        },
        {
          "data": {"values": [{"t": "(f)", "fj": 0.003, "value": 87.4}, {"t": "f", "fj": 0.0186, "value": 87.4}]},
          "mark": {"type": "text", "align": "left", "baseline": "alphabetic", "font": "DejaVu Sans", "fontSize": 28, "color": "#3a3a3a"},
          "encoding": {"text": {"field": "t"}}
        },
        {
          "data": {"values": [{"t": "D", "fj": 0.0222, "value": 85.3}]},
          "mark": {"type": "text", "align": "left", "baseline": "alphabetic", "font": "DejaVu Sans", "fontSize": 17, "color": "#3a3a3a"},
          "encoding": {"text": {"field": "t"}}
        }
      ]
    }
  ]
}
